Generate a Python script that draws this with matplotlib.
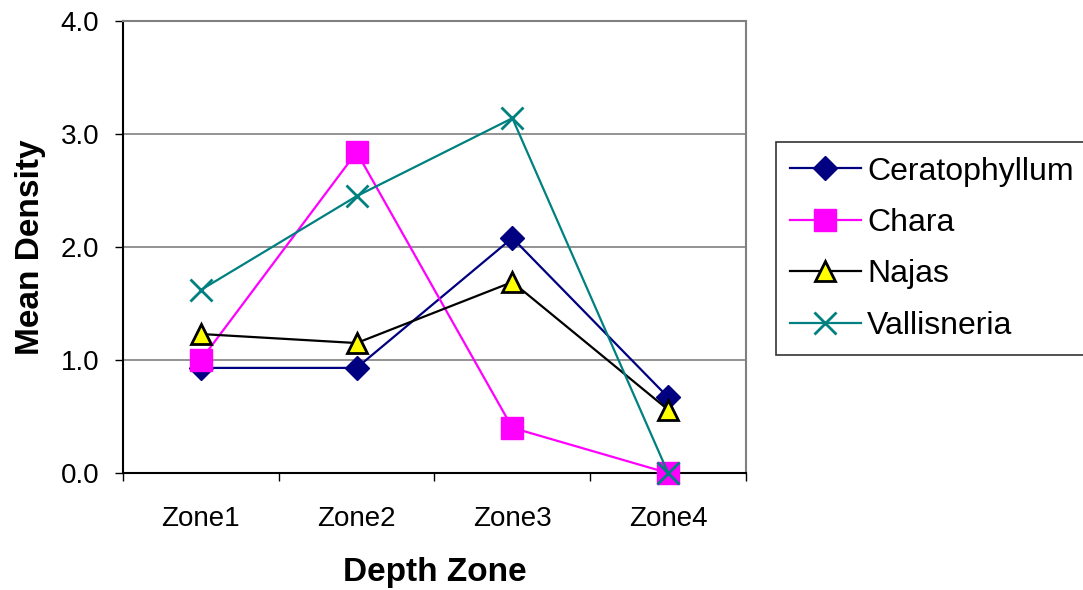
import matplotlib
matplotlib.use('Agg')
import matplotlib.pyplot as plt
import numpy as np

plt.rcParams['font.family'] = ['Liberation Sans', 'DejaVu Sans']

# data
zones = ['Zone1', 'Zone2', 'Zone3', 'Zone4']
ceratophyllum = [0.93, 0.93, 2.08, 0.67]
chara = [1.00, 2.84, 0.40, 0.00]
najas = [1.23, 1.15, 1.69, 0.56]
vallisneria = [1.62, 2.45, 3.14, 0.00]

series = [
    ('Ceratophyllum', ceratophyllum, dict(color='#000080', marker='D', markersize=12,
                                         markerfacecolor='#000080', markeredgecolor='#000080')),
    ('Chara', chara, dict(color='#FF00FF', marker='s', markersize=16,
                          markerfacecolor='#FF00FF', markeredgecolor='#FF00FF')),
    ('Najas', najas, dict(color='black', marker='^', markersize=15,
                          markerfacecolor='#FFFF00', markeredgecolor='black', markeredgewidth=2)),
    ('Vallisneria', vallisneria, dict(color='#008080', marker='x', markersize=16,
                                      markeredgewidth=2)),
]

fig = plt.figure(figsize=(10.83, 5.90), dpi=100)
ax = fig.add_axes([0.1136, 0.1983, 0.5752, 0.7661])

x = np.arange(len(zones)) + 0.5
handles = []
for name, vals, style in series:
    h, = ax.plot(x, vals, linewidth=1.6, clip_on=False, zorder=3, label=name, **style)
    handles.append(h)

ax.set_xlim(0, 4)
ax.set_ylim(0, 4)

# category boundaries as ticks, labels centred
ax.set_xticks(np.arange(0, 5))
ax.set_xticklabels([])
ax.set_xticks(x, minor=True)
ax.set_xticklabels(zones, minor=True, fontsize=20)
ax.tick_params(axis='x', which='minor', length=0, pad=24)
ax.tick_params(axis='x', which='major', length=6, width=1, direction='out')

ax.set_yticks([0, 1, 2, 3, 4])
ax.set_yticklabels(['0.0', '1.0', '2.0', '3.0', '4.0'], fontsize=20)
ax.tick_params(axis='y', length=6, width=1, direction='out', pad=11)

ax.yaxis.grid(True, color='#808080', linewidth=1.2)
ax.set_axisbelow(True)

ax.spines['left'].set_color('black')
ax.spines['bottom'].set_color('black')
ax.spines['top'].set_color('#808080')
ax.spines['right'].set_color('#808080')
for s in ax.spines.values():
    s.set_linewidth(1.5)

ax.set_xlabel('Depth Zone', fontsize=24, fontweight='bold', labelpad=18)
ax.set_ylabel('Mean Density', fontsize=24, fontweight='bold', labelpad=11)

leg = fig.legend(handles=handles, loc='upper left', bbox_to_anchor=(0.7165, 0.759),
                 fontsize=23, frameon=True, fancybox=False, handlelength=2.2,
                 handletextpad=0.2, labelspacing=0.67, borderpad=0.45, borderaxespad=0)
leg.get_frame().set_edgecolor('black')
leg.get_frame().set_linewidth(1.2)

fig.savefig('out.png', dpi=100)
